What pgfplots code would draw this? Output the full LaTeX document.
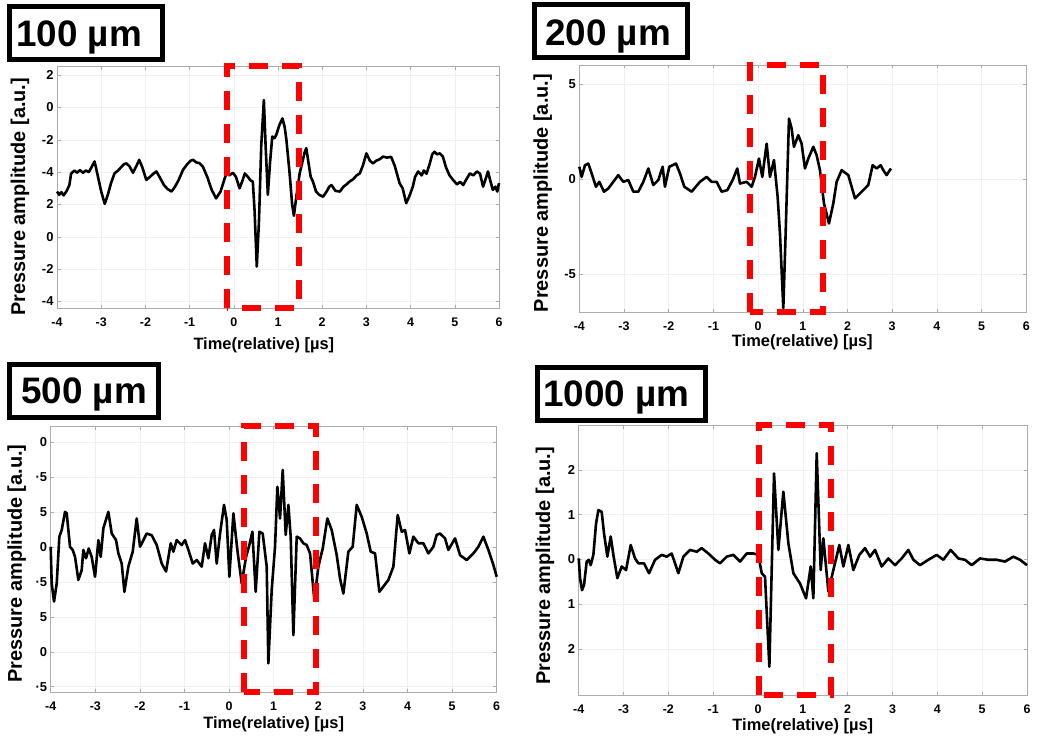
\documentclass[border=0pt]{standalone}
\usepackage{fontspec}
\setmainfont{Liberation Sans}
\usepackage{pgfplots}
\pgfplotsset{compat=1.18}
\tikzset{rbox/.style={red, line width=6bp, dash pattern=on 19bp off 14bp}}
\pgfplotsset{
  panel/.style={
    scale only axis, clip=false,
    xmin=-4, xmax=6,
    xtick={-4,-3,-2,-1,0,1,2,3,4,5,6},
    xticklabels={-4,-3,-2,-1,0,1,2,3,4,5,6},
    axis line style={gray!65, line width=0.6bp},
    tick style={gray!65, line width=0.5bp},
    major tick length=3.5bp,
    grid=major, grid style={gray!12, line width=0.5bp},
    xticklabel style={font=\bfseries\fontsize{12.5}{12.5}\selectfont, yshift=-6bp},
    yticklabel style={font=\bfseries\fontsize{13}{13}\selectfont},
    xlabel={Time(relative) [µs]},
    ylabel={Pressure amplitude [a.u.]},
    xlabel style={font=\bfseries\fontsize{16.5}{16.5}\selectfont, anchor=center},
    ylabel style={font=\bfseries\fontsize{20}{20}\selectfont, anchor=center},
  },
  sig/.style={black, line width=2.6bp, line join=round, no marks},
}
\newcommand{\titlefont}{\bfseries\fontsize{37}{37}\selectfont}
\begin{document}
\begin{tikzpicture}
\path[use as bounding box] (0,0) rectangle (1042bp,-745bp);

% ---------- Panel 1: 100 um ----------
\begin{axis}[panel, at={(57bp,-308bp)}, anchor=south west, width=442bp, height=242bp,
  ymin=-0.2, ymax=7.28, ytick={0,1,2,3,4,5,6,7},
  yticklabels={-4,-2,0,2,-4,-2,0,2},
  xlabel style={at={(axis description cs:0.468,0)}, yshift=-37bp},
  ylabel style={at={(axis description cs:-0.0837,0.459)}}]
\addplot[sig] coordinates {
(-4.00,3.40) (-3.95,3.30) (-3.90,3.38) (-3.85,3.28) (-3.78,3.42) (-3.72,3.60) (-3.68,3.96) (-3.60,4.05) (-3.55,3.98) (-3.48,4.06) (-3.41,3.98) (-3.35,4.05) (-3.28,4.00) (-3.22,4.15) (-3.15,4.33) (-3.08,3.90) (-3.00,3.40) (-2.92,3.02) (-2.85,3.30) (-2.78,3.65) (-2.70,3.96) (-2.62,4.05) (-2.55,4.15) (-2.48,4.25) (-2.43,4.27) (-2.36,4.18) (-2.28,3.98) (-2.20,4.20) (-2.14,4.38) (-2.07,4.15) (-1.98,3.76) (-1.90,3.85) (-1.82,3.95) (-1.75,4.02) (-1.66,3.80) (-1.58,3.60) (-1.50,3.48) (-1.41,3.40) (-1.33,3.55) (-1.25,3.75) (-1.15,4.07) (-1.05,4.25) (-0.98,4.35) (-0.92,4.38) (-0.85,4.30) (-0.78,4.28) (-0.70,4.17) (-0.60,3.85) (-0.50,3.45) (-0.40,3.19) (-0.30,3.40) (-0.17,3.96) (-0.10,3.90) (-0.02,3.98) (0.05,3.85) (0.13,3.50) (0.20,3.75) (0.25,3.96) (0.32,3.85) (0.38,3.74) (0.43,3.71) (0.47,2.80) (0.52,1.08) (0.57,2.50) (0.62,4.80) (0.68,6.23) (0.72,4.80) (0.77,3.30) (0.82,4.30) (0.87,5.10) (0.92,5.05) (0.96,5.15) (1.03,5.45) (1.10,5.66) (1.15,5.40) (1.19,5.00) (1.26,4.00) (1.32,3.00) (1.36,2.65) (1.42,3.30) (1.49,3.96) (1.55,4.30) (1.60,4.60) (1.64,4.74) (1.70,4.20) (1.74,3.85) (1.79,3.71) (1.86,3.40) (1.93,3.30) (2.02,3.24) (2.10,3.40) (2.16,3.55) (2.21,3.60) (2.30,3.42) (2.40,3.40) (2.48,3.55) (2.55,3.62) (2.62,3.71) (2.70,3.78) (2.78,3.90) (2.85,3.96) (2.92,4.20) (3.00,4.58) (3.08,4.35) (3.15,4.27) (3.22,4.35) (3.30,4.40) (3.38,4.48) (3.46,4.45) (3.56,4.47) (3.64,4.20) (3.75,3.66) (3.82,3.50) (3.90,3.04) (3.97,3.25) (4.05,3.55) (4.10,3.85) (4.17,4.02) (4.25,3.90) (4.30,4.05) (4.36,3.95) (4.43,4.25) (4.49,4.55) (4.54,4.63) (4.60,4.55) (4.66,4.58) (4.73,4.48) (4.80,4.15) (4.88,3.90) (4.96,3.76) (5.05,3.62) (5.12,3.70) (5.19,3.60) (5.25,3.75) (5.34,3.96) (5.42,3.90) (5.50,4.02) (5.57,3.95) (5.64,3.55) (5.70,3.80) (5.75,4.02) (5.80,3.75) (5.86,3.45) (5.92,3.55) (5.96,3.40) (6.00,3.66)
};
\draw[rbox] (axis cs:-0.15,-0.2) -- (axis cs:-0.15,7.28) -- (axis cs:1.475,7.28) -- (axis cs:1.475,-0.2) -- cycle;
\end{axis}

% ---------- Panel 2: 200 um ----------
\begin{axis}[panel, at={(579.3bp,-312.3bp)}, anchor=south west, width=447bp, height=247.3bp,
  ymin=-7, ymax=6, ytick={-5,0,5}, yticklabels={-5,0,5},
  xlabel style={at={(axis description cs:0.499,0)}, yshift=-30bp},
  ylabel style={at={(axis description cs:-0.082,0.482)}}]
\addplot[sig] coordinates {
(-4.000,0.65) (-3.948,0.12) (-3.873,0.73) (-3.799,0.82) (-3.724,0.30) (-3.627,-0.40) (-3.553,-0.14) (-3.448,-0.66) (-3.351,-0.49) (-3.239,-0.14) (-3.128,0.21) (-3.016,-0.14) (-2.904,-0.05) (-2.792,-0.66) (-2.680,-0.66) (-2.568,-0.14) (-2.456,0.56) (-2.345,-0.31) (-2.233,-0.05) (-2.136,0.65) (-2.084,-0.40) (-1.987,0.65) (-1.837,0.82) (-1.748,0.30) (-1.651,-0.40) (-1.487,-0.66) (-1.301,-0.14) (-1.151,0.12) (-1.040,-0.14) (-0.928,-0.14) (-0.816,-0.66) (-0.689,-0.58) (-0.570,-0.05) (-0.466,0.56) (-0.406,-0.23) (-0.257,-0.14) (-0.145,-0.40) (-0.070,0.12) (0.019,1.08) (0.094,0.12) (0.191,1.87) (0.265,0.12) (0.355,1.00) (0.437,-0.93) (0.489,-2.85) (0.564,-6.78) (0.616,-2.85) (0.691,3.18) (0.750,2.66) (0.802,1.70) (0.899,2.31) (0.973,1.87) (1.048,0.56) (1.123,1.08) (1.235,1.70) (1.309,1.26) (1.384,0.47) (1.474,-1.28) (1.585,-2.33) (1.682,-1.28) (1.757,-0.14) (1.869,0.47) (2.018,0.21) (2.167,-1.01) (2.279,-0.75) (2.465,-0.31) (2.562,0.73) (2.652,0.56) (2.741,0.73) (2.801,0.47) (2.875,0.21) (2.972,0.56)
};
\draw[rbox] (axis cs:-0.182,-7) -- (axis cs:-0.182,6) -- (axis cs:1.444,6) -- (axis cs:1.444,-7) -- cycle;
\end{axis}

% ---------- Panel 3: 500 um ----------
\begin{axis}[panel, at={(50.7bp,-692.3bp)}, anchor=south west, width=446bp, height=266.3bp,
  ymin=-0.16, ymax=7.47, ytick={0,1,2,3,4,5,6,7},
  yticklabels={\textperiodcentered5,0,5,\textperiodcentered5,0,5,\textperiodcentered5,0},
  xlabel style={at={(axis description cs:0.5,0)}, yshift=-32bp},
  ylabel style={at={(axis description cs:-0.076,0.484)}}]
\addplot[sig] coordinates {
(-4.000,4.01) (-3.978,2.96) (-3.925,2.44) (-3.865,2.96) (-3.806,4.30) (-3.753,4.49) (-3.679,5.01) (-3.641,4.97) (-3.567,4.01) (-3.507,3.92) (-3.454,3.72) (-3.380,3.06) (-3.305,3.34) (-3.268,3.92) (-3.208,3.68) (-3.148,3.96) (-3.081,3.72) (-3.006,3.15) (-2.931,4.20) (-2.879,3.72) (-2.819,4.54) (-2.707,5.01) (-2.632,4.39) (-2.535,4.20) (-2.483,3.82) (-2.408,3.53) (-2.348,2.72) (-2.259,3.44) (-2.161,3.87) (-2.072,4.82) (-1.997,4.01) (-1.848,4.39) (-1.735,4.34) (-1.623,4.06) (-1.511,3.53) (-1.414,3.30) (-1.309,4.11) (-1.250,3.87) (-1.175,4.20) (-1.063,4.06) (-0.988,4.20) (-0.913,3.92) (-0.816,3.53) (-0.726,3.63) (-0.614,3.44) (-0.540,4.11) (-0.465,3.68) (-0.390,4.35) (-0.338,4.49) (-0.278,3.53) (-0.203,4.39) (-0.114,5.21) (-0.054,4.78) (0.006,3.15) (0.096,4.97) (0.185,3.92) (0.283,2.96) (0.380,3.72) (0.454,4.06) (0.522,4.44) (0.596,2.72) (0.679,4.44) (0.753,4.39) (0.843,3.44) (0.880,0.67) (0.955,2.77) (1.030,4.01) (1.082,5.73) (1.142,4.82) (1.202,6.21) (1.269,4.35) (1.329,5.21) (1.381,4.30) (1.441,1.48) (1.516,4.30) (1.590,4.25) (1.665,4.11) (1.740,4.06) (1.815,3.82) (1.912,2.48) (2.001,3.44) (2.099,3.96) (2.203,4.82) (2.300,4.49) (2.413,3.77) (2.487,3.10) (2.562,2.67) (2.674,3.87) (2.771,4.01) (2.861,5.21) (2.973,4.87) (3.085,4.39) (3.175,3.87) (3.272,3.82) (3.369,2.72) (3.459,2.87) (3.571,3.06) (3.683,3.44) (3.780,4.92) (3.870,4.44) (3.945,4.49) (4.042,3.82) (4.132,4.30) (4.244,4.11) (4.356,4.11) (4.468,3.82) (4.580,4.01) (4.655,4.35) (4.729,4.39) (4.842,4.25) (4.916,3.92) (5.066,4.25) (5.178,3.77) (5.327,3.63) (5.477,3.82) (5.589,4.01) (5.701,4.30) (5.813,3.92) (5.925,3.49) (6.000,3.15)
};
\draw[rbox] (axis cs:0.342,-0.16) -- (axis cs:0.342,7.47) -- (axis cs:1.949,7.47) -- (axis cs:1.949,-0.16) -- cycle;
\end{axis}

% ---------- Panel 4: 1000 um ----------
\begin{axis}[panel, at={(578.7bp,-695bp)}, anchor=south west, width=448.3bp, height=270bp,
  ymin=-3.03, ymax=3.0, ytick={-2,-1,0,1,2}, yticklabels={2,1,0,1,2},
  xlabel style={at={(axis description cs:0.5,0)}, yshift=-31.5bp},
  ylabel style={at={(axis description cs:-0.075,0.478)}}]
\addplot[sig] coordinates {
(-4.000,0.02) (-3.970,-0.42) (-3.926,-0.69) (-3.881,-0.57) (-3.822,-0.05) (-3.777,-0.01) (-3.732,-0.13) (-3.673,0.10) (-3.613,0.80) (-3.561,1.10) (-3.487,1.06) (-3.435,0.58) (-3.361,0.06) (-3.286,0.51) (-3.227,0.10) (-3.138,-0.42) (-3.041,-0.16) (-2.944,-0.24) (-2.840,0.32) (-2.743,0.02) (-2.669,-0.09) (-2.543,-0.09) (-2.431,-0.31) (-2.297,-0.01) (-2.149,0.10) (-2.037,0.06) (-1.926,0.13) (-1.777,-0.31) (-1.665,0.06) (-1.517,0.21) (-1.368,0.17) (-1.257,0.25) (-1.108,0.13) (-0.959,-0.01) (-0.848,-0.09) (-0.699,0.06) (-0.550,0.10) (-0.401,-0.05) (-0.253,0.13) (-0.104,0.13) (0.007,0.10) (0.082,-0.31) (0.156,-0.39) (0.253,-2.40) (0.357,1.92) (0.454,0.21) (0.565,1.51) (0.677,0.36) (0.788,-0.31) (0.937,-0.54) (1.071,-0.87) (1.175,-0.16) (1.234,-0.87) (1.309,2.37) (1.398,-0.24) (1.457,0.47) (1.569,-0.72) (1.680,-0.24) (1.814,0.32) (1.903,-0.16) (2.015,0.32) (2.126,-0.24) (2.260,0.10) (2.387,0.25) (2.498,0.06) (2.610,0.21) (2.758,-0.16) (2.907,0.02) (3.056,-0.13) (3.204,0.02) (3.353,0.21) (3.465,-0.01) (3.613,-0.13) (3.799,-0.01) (3.985,0.10) (4.134,-0.01) (4.297,0.21) (4.468,0.02) (4.617,-0.01) (4.766,-0.13) (4.952,0.02) (5.138,-0.01) (5.323,-0.01) (5.509,-0.05) (5.695,0.06) (5.844,-0.01) (6.000,-0.13)
};
\draw[rbox] (axis cs:0.022,-3.03) -- (axis cs:0.022,3.0) -- (axis cs:1.628,3.0) -- (axis cs:1.628,-3.03) -- cycle;
\end{axis}

% ---------- Title boxes ----------
\draw[line width=5bp, fill=white] (9.5bp,-6.5bp) rectangle (162.5bp,-59.5bp);
\node[anchor=base west, inner sep=0pt, font=\titlefont] at (16bp,-46.7bp) {100 µm};
\draw[line width=5bp, fill=white] (534.5bp,-4.5bp) rectangle (687.5bp,-57.5bp);
\node[anchor=base west, inner sep=0pt, font=\titlefont] at (545bp,-45bp) {200 µm};
\draw[line width=5bp, fill=white] (9.5bp,-364.5bp) rectangle (158.5bp,-417.5bp);
\node[anchor=base west, inner sep=0pt, font=\titlefont] at (21bp,-403.3bp) {500 µm};
\draw[line width=5bp, fill=white] (537.5bp,-367.5bp) rectangle (705.5bp,-420.5bp);
\node[anchor=base west, inner sep=0pt, font=\titlefont] at (543bp,-406.7bp) {1000 µm};
\end{tikzpicture}
\end{document}
